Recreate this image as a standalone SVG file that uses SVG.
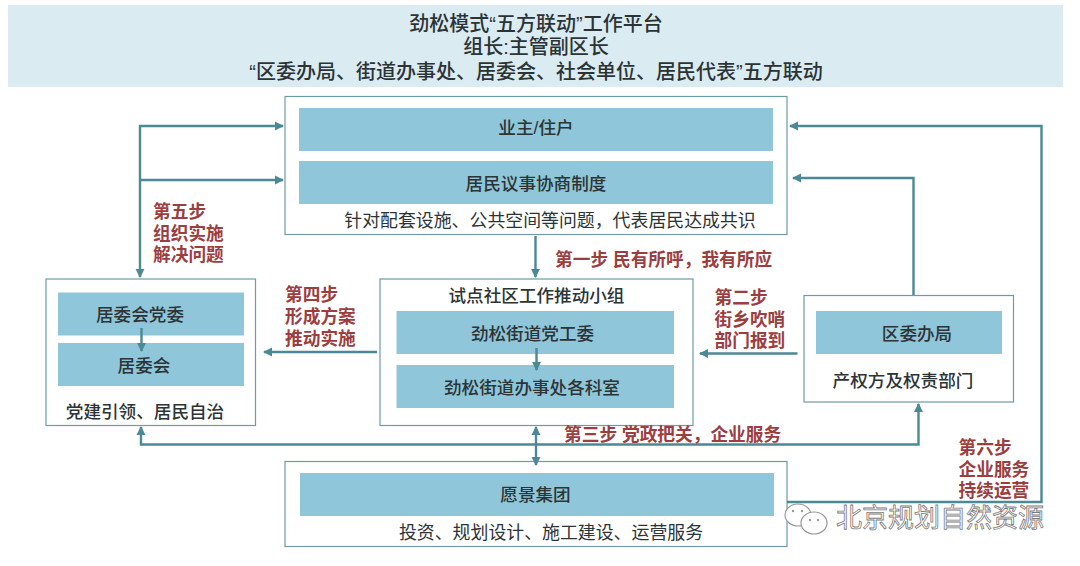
<svg xmlns="http://www.w3.org/2000/svg" width="1080" height="566" viewBox="0 0 1080 566">
<style>
text{font-family:"Liberation Sans","Noto Sans CJK SC",sans-serif;text-anchor:middle;fill:#2c3436;font-size:17.9px}
.h{font-size:20px;fill:#2b3335;font-weight:500}
.b{font-weight:500;font-size:17.6px}
.r{fill:#9c3d40;text-anchor:start;font-size:17.7px;font-weight:700}
.box{fill:#fff;stroke:#6e9ca3;stroke-width:1.2}
.bar{fill:#8fc6d9}
.c{fill:none;stroke:#4b8995;stroke-width:2.4}
.w{font-size:26px;fill:#fff;stroke:#7c7c7c;stroke-width:.8;text-anchor:start;font-weight:400}
.i{fill:#fff;stroke:#999;stroke-width:1.2}
.e{fill:#999}
</style>
<defs>
<marker id="a" viewBox="0 0 10 10" refX="9" refY="5" markerWidth="3.8" markerHeight="3.8" orient="auto-start-reverse"><path d="M0 0L10 5L0 10z" fill="#4b8995"/></marker>
</defs>
<rect width="1080" height="566" fill="#fff"/>
<g id="platform">
<rect x="8" y="5" width="1055" height="82" fill="#dbebf2"/>
<text class="h" x="536" y="31">劲松模式“五方联动”工作平台</text>
<text class="h" x="536" y="54">组长:主管副区长</text>
<text class="h" x="536" y="79">“区委办局、街道办事处、居委会、社会单位、居民代表”五方联动</text>
</g>
<g id="residents">
<rect class="box" x="285" y="96.500" width="502" height="138"/>
<rect class="bar" x="299" y="108" width="474" height="43"/>
<rect class="bar" x="299" y="161" width="474" height="43"/>
<text class="b" x="536" y="134">业主/住户</text>
<text class="b" x="536" y="190">居民议事协商制度</text>
<text x="550" y="227">针对配套设施、公共空间等问题，代表居民达成共识</text>
</g>
<g id="committee">
<rect class="box" x="46" y="279" width="209.500" height="146.500"/>
<rect class="bar" x="58" y="292.500" width="186" height="43"/>
<rect class="bar" x="58" y="343" width="186" height="43"/>
<text class="b" x="140" y="321">居委会党委</text>
<text class="b" x="144" y="372">居委会</text>
<text class="b" x="145" y="418">党建引领、居民自治</text>
</g>
<g id="pilot">
<rect class="box" x="380" y="279" width="313" height="146.500"/>
<rect class="bar" x="396.500" y="311" width="277.500" height="43"/>
<rect class="bar" x="396.500" y="365" width="277.500" height="43"/>
<text class="b" x="536.500" y="302">试点社区工作推动小组</text>
<text class="b" x="532.500" y="340">劲松街道党工委</text>
<text class="b" x="532" y="394">劲松街道办事处各科室</text>
</g>
<g id="district">
<rect class="box" x="804" y="295.500" width="209.500" height="106.500"/>
<rect class="bar" x="816" y="311" width="186" height="43"/>
<text class="b" x="917" y="340">区委办局</text>
<text class="b" x="903" y="387">产权方及权责部门</text>
</g>
<g id="vision">
<rect class="box" x="285" y="461.500" width="502" height="85"/>
<rect class="bar" x="300" y="473" width="474" height="43"/>
<text class="b" x="535.500" y="501">愿景集团</text>
<text x="551" y="539">投资、规划设计、施工建设、运营服务</text>
</g>
<g id="connectors">
<path class="c" d="M140 277V126H283" marker-start="url(#a)" marker-end="url(#a)"/>
<path class="c" d="M140 180H283" marker-end="url(#a)"/>
<path class="c" d="M787 502H1041.500V126H790" marker-end="url(#a)"/>
<path class="c" d="M913.500 295V178H793" marker-end="url(#a)"/>
<path class="c" d="M535.500 236V277" marker-end="url(#a)"/>
<path class="c" d="M377 352H264" marker-end="url(#a)"/>
<path class="c" d="M797.500 353.500H700" marker-end="url(#a)"/>
<path class="c" d="M141 427V444.500H918.500V404" marker-start="url(#a)" marker-end="url(#a)"/>
<path class="c" d="M536 427V465" marker-start="url(#a)" marker-end="url(#a)"/>
<path class="c" d="M141.500 328V351" marker-end="url(#a)"/>
<path class="c" d="M536.500 348V370" marker-end="url(#a)"/>
</g>
<g id="labels">
<text class="r" x="153" y="218">第五步</text>
<text class="r" x="153" y="240">组织实施</text>
<text class="r" x="153" y="261">解决问题</text>
<text class="r" x="555" y="266">第一步 民有所呼，我有所应</text>
<text class="r" x="285" y="301">第四步</text>
<text class="r" x="285" y="323">形成方案</text>
<text class="r" x="285" y="345">推动实施</text>
<text class="r" x="714.500" y="304">第二步</text>
<text class="r" x="714.500" y="326">街乡吹哨</text>
<text class="r" x="714.500" y="347">部门报到</text>
<text class="r" x="564" y="441">第三步 党政把关，企业服务</text>
<text class="r" x="958.500" y="454">第六步</text>
<text class="r" x="958.500" y="476">企业服务</text>
<text class="r" x="958.500" y="497">持续运营</text>
</g>
<g id="watermark">
<ellipse class="i" cx="798" cy="515" rx="13" ry="11"/>
<ellipse class="i" cx="814" cy="523" rx="13" ry="11"/>
<circle class="e" cx="793" cy="511" r="1.200"/><circle class="e" cx="802" cy="511" r="1.200"/>
<circle class="e" cx="810" cy="520" r="1.200"/><circle class="e" cx="818" cy="520" r="1.200"/>
<text class="w" x="836" y="527">北京规划自然资源</text>
</g>
</svg>
